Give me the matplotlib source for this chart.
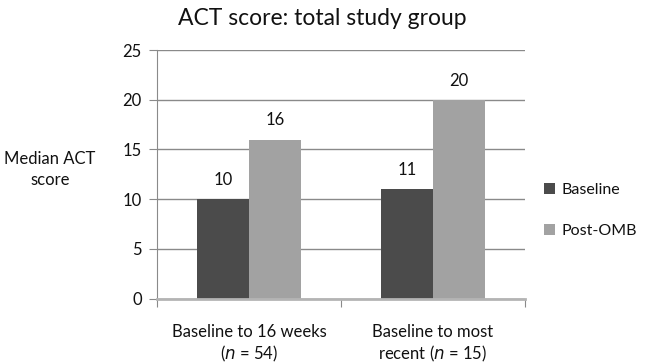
import matplotlib
matplotlib.use("Agg")
import matplotlib.pyplot as plt
import numpy as np

plt.rcParams['font.family'] = ['Lato', 'DejaVu Sans']

categories = ["Baseline to 16 weeks\n($n$ = 54)", "Baseline to most\nrecent ($n$ = 15)"]
series_names = ["Baseline", "Post-OMB"]
baseline = [10, 11]
post_omb = [16, 20]
yticks = [0, 5, 10, 15, 20, 25]

colors = ["#4b4b4b", "#a2a2a2"]

fig = plt.figure(figsize=(6.49, 3.64), dpi=100)
ax = fig.add_axes([0.2419, 0.1794, 0.567, 0.6832])

x = np.arange(len(categories))
w = 0.283
bars1 = ax.bar(x - w / 2, baseline, w, color=colors[0], label=series_names[0], zorder=3)
bars2 = ax.bar(x + w / 2, post_omb, w, color=colors[1], label=series_names[1], zorder=3)

for bars, vals in ((bars1, baseline), (bars2, post_omb)):
    for b, v in zip(bars, vals):
        ax.annotate(str(v), (b.get_x() + b.get_width() / 2, v), xytext=(0, 8),
                    textcoords="offset points", ha="center", va="bottom",
                    fontsize=12, color="#111111")

ax.set_xlim(-0.5, len(categories) - 0.5)
ax.set_ylim(0, 25)
ax.set_yticks(yticks)
ax.set_yticklabels([str(t) for t in yticks])
ax.yaxis.grid(True, color="#8a8a8a", linewidth=1.0, zorder=0)
ax.set_axisbelow(True)

# category separators as ticks on the x axis
ax.set_xticks(np.arange(-0.5, len(categories), 1.0))
ax.set_xticklabels([])
ax.set_xticks(x, minor=True)
ax.set_xticklabels(categories, minor=True, fontsize=12, color="#111111")
ax.tick_params(axis="x", which="minor", length=0, pad=18)
ax.tick_params(axis="x", which="major", length=6, color="#8a8a8a", direction="out")
ax.tick_params(axis="y", length=6, color="#8a8a8a", labelsize=12, labelcolor="#111111", pad=5)
for lab in ax.get_xticklabels(minor=True):
    lab.set_linespacing(1.3)

for s in ("top", "right"):
    ax.spines[s].set_visible(False)
ax.spines["left"].set_color("#8a8a8a")
ax.spines["bottom"].set_color("#b4b4b4")
ax.spines["bottom"].set_linewidth(2)
ax.spines["bottom"].set_zorder(4)

fig.text(0.497, 0.948, "ACT score: total study group", ha="center", va="center",
         fontsize=16.5, color="#111111")
fig.text(0.077, 0.535, "Median ACT\nscore", ha="center", va="center", fontsize=12,
         linespacing=1.4, color="#111111")

leg = ax.legend(loc="center left", bbox_to_anchor=(1.025, 0.355), frameon=False,
                fontsize=11.5, handlelength=0.7, handleheight=0.7, handletextpad=0.4,
                labelspacing=1.65, borderaxespad=0.2)
for t in leg.get_texts():
    t.set_color("#111111")

fig.savefig("out.png", dpi=100)
